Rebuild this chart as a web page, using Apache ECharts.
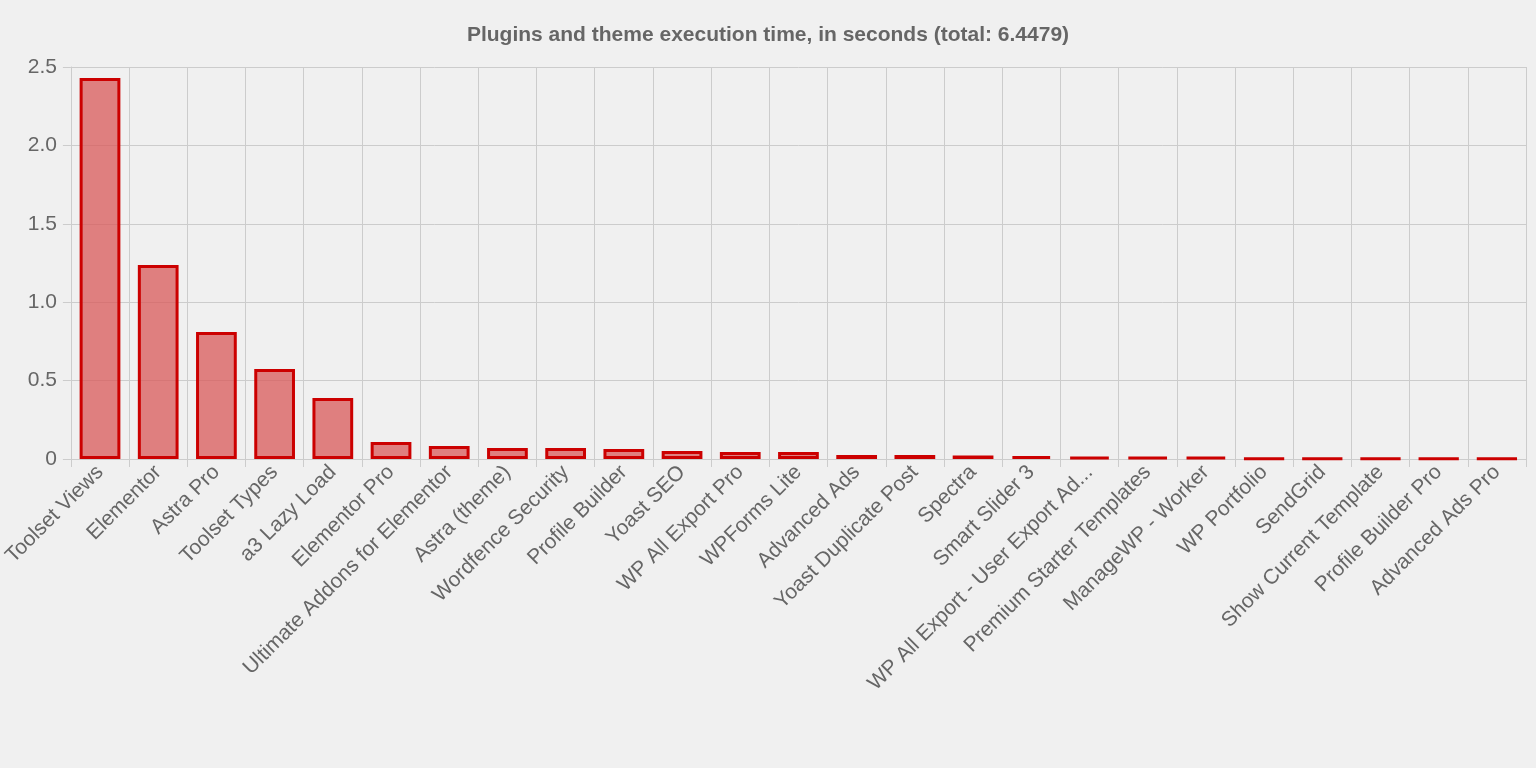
<!DOCTYPE html>
<html>
<head>
<meta charset="UTF-8">
<script src="https://cdn.jsdelivr.net/npm/echarts/dist/echarts.min.js"></script>
<style>
  body { margin: 0; background: #f0f0f0; }
  #chart { width: 1536px; height: 768px; }
</style>
</head>
<body>
<div id="chart"></div>
<script>
const plugins = ['Toolset Views', 'Elementor', 'Astra Pro', 'Toolset Types', 'a3 Lazy Load', 'Elementor Pro',
  'Ultimate Addons for Elementor', 'Astra (theme)', 'Wordfence Security', 'Profile Builder', 'Yoast SEO',
  'WP All Export Pro', 'WPForms Lite', 'Advanced Ads', 'Yoast Duplicate Post', 'Spectra', 'Smart Slider 3',
  'WP All Export - User Export Ad...', 'Premium Starter Templates', 'ManageWP - Worker', 'WP Portfolio',
  'SendGrid', 'Show Current Template', 'Profile Builder Pro', 'Advanced Ads Pro'];
const seconds = [2.43, 1.237, 0.81, 0.574, 0.389, 0.108, 0.083, 0.07, 0.07, 0.064, 0.051, 0.045, 0.045,
  0.026, 0.026, 0.022, 0.019, 0.013, 0.013, 0.013, 0.003, 0.003, 0.003, 0.003, 0.003];
const yTicks = ['0', '0.5', '1.0', '1.5', '2.0', '2.5'];

const chart = echarts.init(document.getElementById('chart'));
chart.setOption({
  backgroundColor: '#f0f0f0',
  animation: false,
  title: {
    text: 'Plugins and theme execution time, in seconds (total: 6.4479)',
    left: 'center', top: 20,
    textStyle: { fontFamily: 'Liberation Sans, Arial', fontSize: 21, fontWeight: 'bold', color: '#666' }
  },
  grid: { left: 68, right: 10, top: 67, bottom: 309 },
  xAxis: {
    type: 'category',
    data: plugins,
    axisLine: { lineStyle: { color: '#ccc' } },
    axisTick: { show: true, length: 8, lineStyle: { color: '#ccc' } },
    splitLine: { show: true, lineStyle: { color: '#ccc' } },
    axisLabel: { rotate: 45, interval: 0, fontFamily: 'Liberation Sans, Arial', fontSize: 21, color: '#666', margin: 10 }
  },
  yAxis: {
    type: 'value', min: 0, max: 2.5, interval: 0.5,
    axisLine: { show: true, lineStyle: { color: '#ccc' } },
    axisTick: { show: true, length: 8, lineStyle: { color: '#ccc' } },
    splitLine: { lineStyle: { color: '#ccc' } },
    axisLabel: {
      fontFamily: 'Liberation Sans, Arial', fontSize: 21, color: '#666', margin: 14,
      formatter: v => yTicks[Math.round(v / 0.5)]
    }
  },
  series: [{
    type: 'bar',
    data: seconds,
    barWidth: '70%',
    itemStyle: { color: 'rgba(218,90,90,0.75)', borderColor: '#cc0000', borderWidth: 3 }
  }]
});
</script>
</body>
</html>
